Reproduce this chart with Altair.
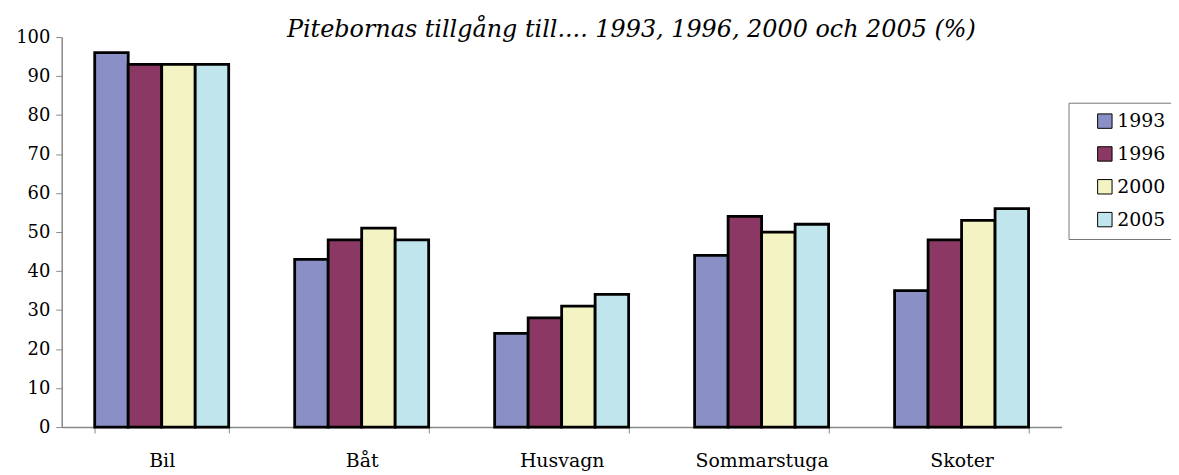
import altair as alt
import pandas as pd

categories = ["Bil", "Båt", "Husvagn", "Sommarstuga", "Skoter"]
years = ["1993", "1996", "2000", "2005"]
v1993 = [96, 43, 24, 44, 35]
v1996 = [93, 48, 28, 54, 48]
v2000 = [93, 51, 31, 50, 53]
v2005 = [93, 48, 34, 52, 56]
colors = ["#8a90c6", "#8b3864", "#f3f3c4", "#c0e5ec"]
y_ticks = [0, 10, 20, 30, 40, 50, 60, 70, 80, 90, 100]

rows = []
for yr, vals in zip(years, [v1993, v1996, v2000, v2005]):
    for c, v in zip(categories, vals):
        rows.append({"kategori": c, "år": yr, "procent": v})
df = pd.DataFrame(rows)

FONT = "DejaVu Serif"

chart = alt.Chart(df).mark_bar(stroke="black", strokeWidth=2.8).encode(
    x=alt.X("kategori:N", sort=categories,
            scale=alt.Scale(paddingInner=0.33, paddingOuter=0.165),
            axis=alt.Axis(title=None, labelAngle=0, tickBand="extent",
                          labelFontSize=19, labelPadding=19, tickSize=6,
                          domainColor="#888888", tickColor="#888888",
                          labelColor="black", labelFont=FONT)),
    xOffset=alt.XOffset("år:N", sort=years, scale=alt.Scale(paddingInner=0, paddingOuter=0)),
    y=alt.Y("procent:Q", scale=alt.Scale(domain=[0, 100], nice=False),
            axis=alt.Axis(title=None, values=y_ticks, grid=False, tickSize=6,
                          labelFontSize=18, labelPadding=6,
                          domainColor="#888888", tickColor="#888888",
                          labelColor="black", labelFont=FONT)),
    color=alt.Color("år:N", sort=years,
                    scale=alt.Scale(domain=years, range=colors),
                    legend=alt.Legend(title=None, orient="none", legendX=1012, legendY=66,
                                      symbolType="square", symbolSize=210,
                                      symbolStrokeColor="black", symbolStrokeWidth=1,
                                      symbolOffset=18,
                                      labelFontSize=19, labelFont=FONT, rowPadding=13,
                                      strokeColor="#777777", fillColor="white",
                                      padding=9, labelOffset=3)),
).properties(
    width=1005,
    height=392,
    title=alt.TitleParams(
        "Pitebornas tillgång till.... 1993, 1996, 2000 och 2005 (%)",
        font=FONT, fontSize=24, fontStyle="italic", fontWeight="normal",
        anchor="middle", dx=70, baseline="alphabetic", offset=0, dy=33,
        color="black"),
    autosize=alt.AutoSizeParams(type="none"),
    padding={"left": 54, "top": 28, "right": 110, "bottom": 45},
).configure_view(stroke=None).configure_axis(domainWidth=1.5)

chart.save("out.html", embed_options={"renderer": "svg", "actions": False})
